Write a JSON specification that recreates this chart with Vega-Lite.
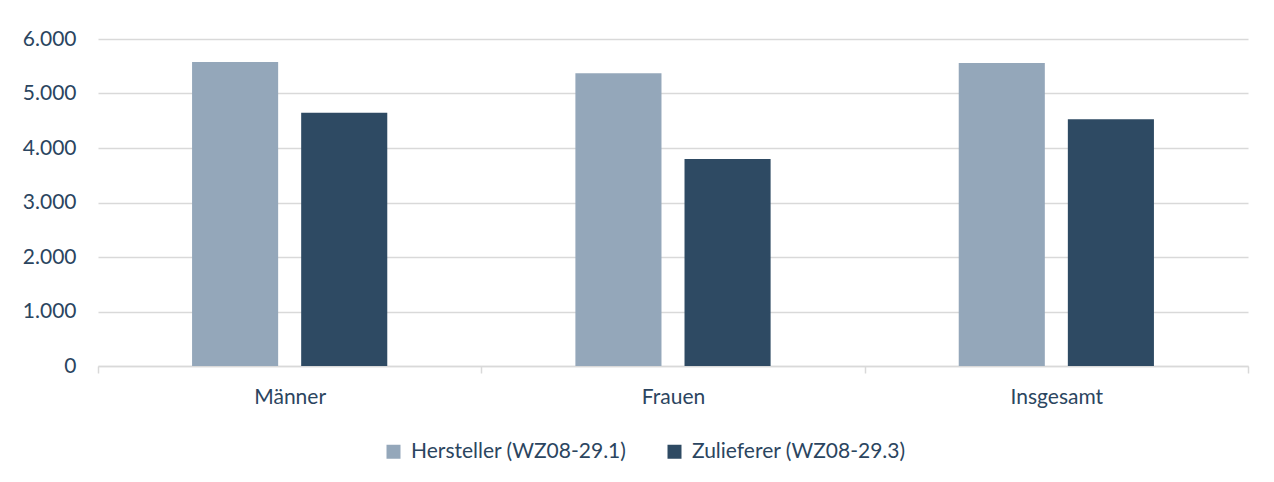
{
  "$schema": "https://vega.github.io/schema/vega-lite/v6.json",
  "width": 1150,
  "height": 327,
  "autosize": {"type": "none"},
  "padding": {"left": 98, "top": 39, "right": 26, "bottom": 116},
  "background": "white",
  "data": {
    "values": [
      {"gruppe": "Männer", "serie": "Hersteller (WZ08-29.1)", "wert": 5578},
      {"gruppe": "Männer", "serie": "Zulieferer (WZ08-29.3)", "wert": 4648},
      {"gruppe": "Frauen", "serie": "Hersteller (WZ08-29.1)", "wert": 5370},
      {"gruppe": "Frauen", "serie": "Zulieferer (WZ08-29.3)", "wert": 3798},
      {"gruppe": "Insgesamt", "serie": "Hersteller (WZ08-29.1)", "wert": 5560},
      {"gruppe": "Insgesamt", "serie": "Zulieferer (WZ08-29.3)", "wert": 4526}
    ]
  },
  "mark": {"type": "bar"},
  "encoding": {
    "x": {
      "field": "gruppe",
      "type": "nominal",
      "sort": ["Männer", "Frauen", "Insgesamt"],
      "scale": {"paddingInner": 0, "paddingOuter": 0},
      "axis": {
        "title": null,
        "labelAngle": 0,
        "domainColor": "#d9d9d9",
        "domainWidth": 1.5,
        "ticks": true,
        "tickBand": "extent",
        "tickColor": "#d9d9d9",
        "tickWidth": 1.5,
        "tickSize": 7,
        "labelPadding": 13,
        "labelFont": "Lato",
        "labelFontSize": 21,
        "labelColor": "#2B4560",
        "grid": false
      }
    },
    "xOffset": {
      "field": "serie",
      "type": "nominal",
      "scale": {"paddingInner": 0.211, "paddingOuter": 0.862}
    },
    "y": {
      "field": "wert",
      "type": "quantitative",
      "scale": {"domain": [0, 6000]},
      "axis": {
        "title": null,
        "values": [0, 1000, 2000, 3000, 4000, 5000, 6000],
        "labelExpr": "replace(format(datum.value, ','), ',', '.')",
        "domain": false,
        "ticks": false,
        "grid": true,
        "gridColor": "#d9d9d9",
        "gridWidth": 1.5,
        "labelPadding": 22,
        "labelFont": "Lato",
        "labelFontSize": 21,
        "labelColor": "#2B4560"
      }
    },
    "color": {
      "field": "serie",
      "type": "nominal",
      "scale": {"range": ["#94A7BA", "#2E4A63"]},
      "legend": {
        "title": null,
        "orient": "none",
        "direction": "horizontal",
        "legendX": 285,
        "legendY": 402,
        "symbolType": "square",
        "symbolSize": 196,
        "symbolStrokeWidth": 0,
        "labelFont": "Lato",
        "labelFontSize": 21,
        "labelLimit": 0,
        "labelColor": "#2B4560",
        "labelOffset": 7,
        "columnPadding": 37
      }
    }
  },
  "config": {
    "view": {"stroke": null}
  }
}
